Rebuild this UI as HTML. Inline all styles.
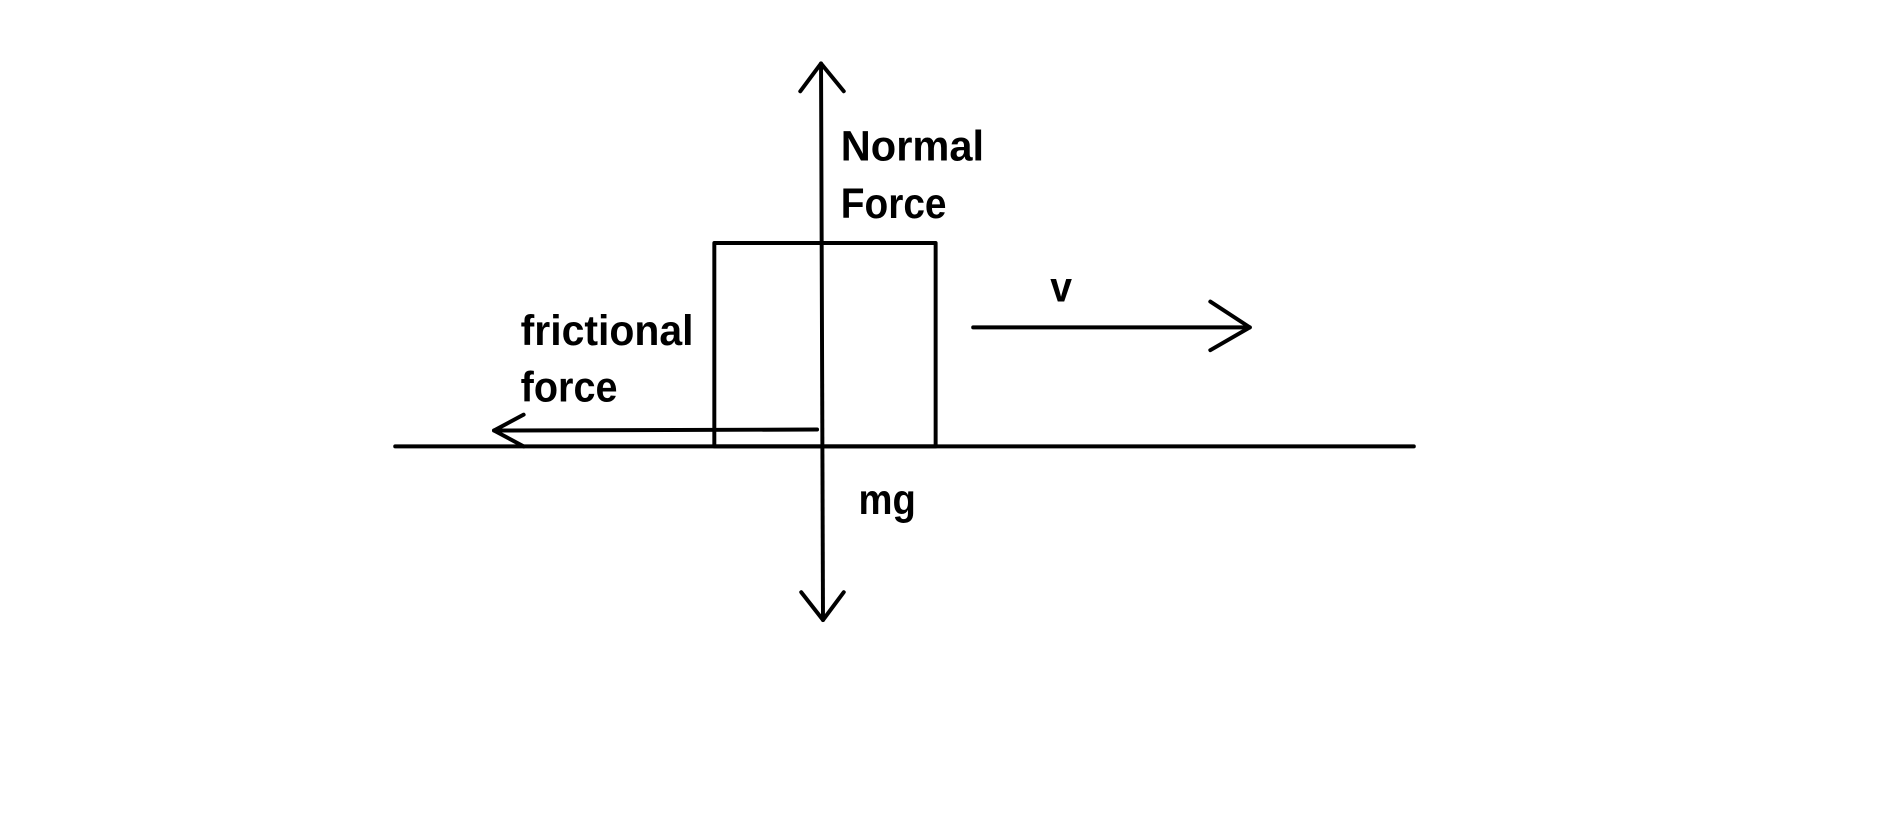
<!DOCTYPE html>
<html><head><meta charset="utf-8"><style>html,body{margin:0;padding:0;background:#fff;}svg{display:block;}</style></head>
<body>
<svg width="1899" height="818" viewBox="0 0 1899 818" xmlns="http://www.w3.org/2000/svg">
<g transform="scale(0.988,0.992)">
<g stroke="#000" stroke-width="4" fill="none" stroke-linecap="round" stroke-linejoin="round">
<line x1="400" y1="450" x2="1431" y2="450"/>
<rect x="723" y="245" width="224" height="205"/>
<line x1="831" y1="64" x2="833" y2="625"/>
<polyline points="810,92 831,64 854,92"/>
<polyline points="811,597 833,625 854,597"/>
<line x1="985" y1="330" x2="1265" y2="330"/>
<polyline points="1225,304 1265,330 1225,353"/>
<line x1="827" y1="433" x2="500" y2="434"/>
<polyline points="530,418 500,434 530,450"/>
</g>
<g font-family="Liberation Sans, sans-serif" font-weight="bold" font-size="43" fill="#000">
<text x="851" y="162" textLength="145" lengthAdjust="spacingAndGlyphs">Normal</text>
<text x="851" y="220" textLength="107" lengthAdjust="spacingAndGlyphs">Force</text>
<text x="1063" y="304" textLength="22" lengthAdjust="spacingAndGlyphs">v</text>
<text x="527" y="348" textLength="175" lengthAdjust="spacingAndGlyphs">frictional</text>
<text x="527" y="405" textLength="98" lengthAdjust="spacingAndGlyphs">force</text>
<text x="869" y="518" textLength="58" lengthAdjust="spacingAndGlyphs">mg</text>
</g>
</g>
</svg>
</body></html>
